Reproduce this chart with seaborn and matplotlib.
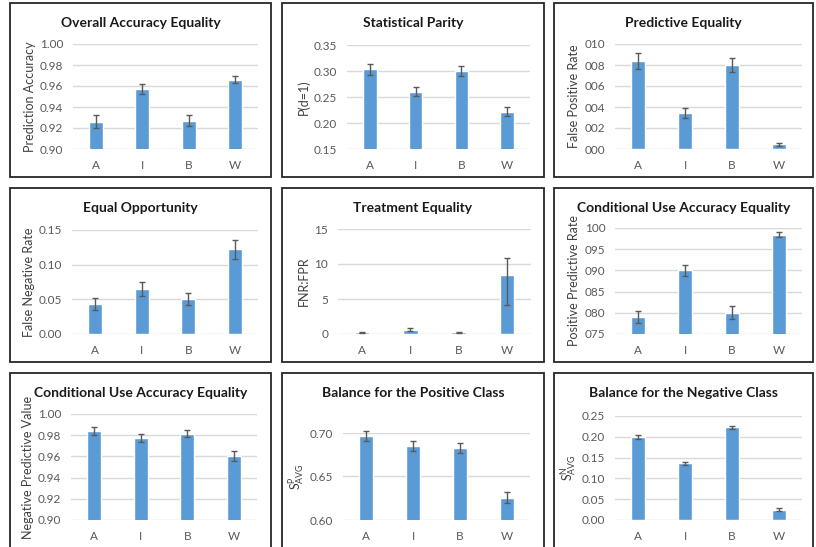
import numpy as np
import pandas as pd
import matplotlib
matplotlib.use("Agg")
import matplotlib.pyplot as plt
from matplotlib.patches import Rectangle
import seaborn as sns

sns.set_theme(style="white")
plt.rcParams["font.family"] = ["Lato", "DejaVu Sans"]

groups = ["A", "I", "B", "W"]

# Overall accuracy equality
acc_vals = [0.926, 0.957, 0.927, 0.966]
acc_err = [0.006, 0.0045, 0.0055, 0.0035]
acc_ticks = [0.90, 0.92, 0.94, 0.96, 0.98, 1.00]
acc_labels = ["0.90", "0.92", "0.94", "0.96", "0.98", "1.00"]

# Statistical parity
sp_vals = [0.303, 0.260, 0.300, 0.222]
sp_err = [0.010, 0.009, 0.009, 0.009]
sp_ticks = [0.15, 0.20, 0.25, 0.30, 0.35]
sp_labels = ["0.15", "0.20", "0.25", "0.30", "0.35"]

# Predictive equality (false positive rate)
fpr_vals = [0.084, 0.034, 0.080, 0.0045]
fpr_err = [0.0075, 0.0048, 0.007, 0.0016]
fpr_ticks = [0.00, 0.02, 0.04, 0.06, 0.08, 0.10]
fpr_labels = ["000", "002", "004", "006", "008", "010"]

# Equal opportunity (false negative rate)
fnr_vals = [0.0435, 0.0645, 0.050, 0.122]
fnr_err = [0.009, 0.010, 0.0087, 0.0133]
fnr_ticks = [0.00, 0.05, 0.10, 0.15]
fnr_labels = ["0.00", "0.05", "0.10", "0.15"]

# Treatment equality (FNR:FPR)
te_vals = [0.22, 0.62, 0.22, 8.5]
te_err_low = [0.06, 0.25, 0.08, 4.4]
te_err_high = [0.06, 0.25, 0.08, 2.4]
te_ticks = [0, 5, 10, 15]
te_labels = ["0", "5", "10", "15"]

# Conditional use accuracy equality (positive predictive value)
ppv_vals = [0.790, 0.900, 0.800, 0.984]
ppv_err = [0.0150, 0.0125, 0.0155, 0.0055]
ppv_ticks = [0.75, 0.80, 0.85, 0.90, 0.95, 1.00]
ppv_labels = ["075", "080", "085", "090", "095", "100"]

# Conditional use accuracy equality (negative predictive value)
npv_vals = [0.9838, 0.9775, 0.9815, 0.9605]
npv_err = [0.0036, 0.0040, 0.0035, 0.0044]
npv_ticks = [0.90, 0.92, 0.94, 0.96, 0.98, 1.00]
npv_labels = ["0.90", "0.92", "0.94", "0.96", "0.98", "1.00"]

# Balance for the positive class
bpos_vals = [0.6966, 0.6847, 0.6832, 0.6256]
bpos_err = [0.0059, 0.0057, 0.0057, 0.0061]
bpos_ticks = [0.60, 0.65, 0.70]
bpos_labels = ["0.60", "0.65", "0.70"]

# Balance for the negative class
bneg_vals = [0.1989, 0.1366, 0.2228, 0.0250]
bneg_err = [0.0045, 0.0040, 0.0032, 0.0035]
bneg_ticks = [0.00, 0.05, 0.10, 0.15, 0.20, 0.25]
bneg_labels = ["0.00", "0.05", "0.10", "0.15", "0.20", "0.25"]

W, H = 816, 547
BAR = "#5b9bd5"
ERR = "#595959"
TXT = "#595959"
GRID = "#d9d9d9"

# panel frame (x0, y0, x1, y1) and plot area (x0, y0, x1, y1) in pixels from top-left
panels = [
    ("Overall Accuracy Equality", "Prediction Accuracy", acc_vals, acc_err, acc_err,
     acc_ticks, acc_labels, (10, 3, 271, 177), (73, 44, 258, 149)),
    ("Statistical Parity", "P(d=1)", sp_vals, sp_err, sp_err,
     sp_ticks, sp_labels, (282, 3, 544, 177), (347, 45, 530, 149)),
    ("Predictive Equality", "False Positive Rate", fpr_vals, fpr_err, fpr_err,
     fpr_ticks, fpr_labels, (554, 3, 813, 177), (615, 44, 802, 149)),
    ("Equal Opportunity", "False Negative Rate", fnr_vals, fnr_err, fnr_err,
     fnr_ticks, fnr_labels, (10, 188, 271, 362), (72, 230, 258, 334)),
    ("Treatment Equality", "FNR:FPR", te_vals, te_err_low, te_err_high,
     te_ticks, te_labels, (282, 188, 544, 362), (338, 229, 531, 334)),
    ("Conditional Use Accuracy Equality", "Positive Predictive Rate", ppv_vals, ppv_err, ppv_err,
     ppv_ticks, ppv_labels, (554, 188, 813, 362), (615, 228, 802, 334)),
    ("Conditional Use Accuracy Equality", "Negative Predictive Value", npv_vals, npv_err, npv_err,
     npv_ticks, npv_labels, (10, 373, 271, 560), (71, 414, 257, 520)),
    ("Balance for the Positive Class", r"$\mathregular{S^{P}_{AVG}}$", bpos_vals, bpos_err, bpos_err,
     bpos_ticks, bpos_labels, (282, 373, 544, 560), (343, 433, 530, 520)),
    ("Balance for the Negative Class", r"$\mathregular{S^{N}_{AVG}}$", bneg_vals, bneg_err, bneg_err,
     bneg_ticks, bneg_labels, (554, 373, 813, 560), (615, 416, 802, 520)),
]

fig = plt.figure(figsize=(W / 100, H / 100), dpi=100)
fig.patch.set_facecolor("white")


def frac(box):
    x0, y0, x1, y1 = box
    return [x0 / W, 1 - y1 / H, (x1 - x0) / W, (y1 - y0) / H]


for title, ylabel, vals, elow, ehigh, ticks, tlabels, frame, area in panels:
    # chart frame
    fx0, fy0, fx1, fy1 = frame
    fig.add_artist(Rectangle((fx0 / W, 1 - fy1 / H), (fx1 - fx0) / W, (fy1 - fy0) / H,
                             transform=fig.transFigure, fill=False,
                             edgecolor="#262626", linewidth=1.3, zorder=0))
    fig.text((fx0 + fx1) / 2 / W, 1 - (fy0 + 20) / H, title, ha="center", va="center",
             fontsize=10, fontweight="bold", color="#1a1a1a")

    ax = fig.add_axes(frac(area))
    df = pd.DataFrame({"group": groups, "value": vals})
    sns.barplot(data=df, x="group", y="value", color=BAR, width=0.3,
                errorbar=None, ax=ax, zorder=3, saturation=1)
    centers = [p.get_x() + p.get_width() / 2 for p in ax.patches]
    ax.errorbar(centers, vals, yerr=[elow, ehigh], fmt="none", ecolor=ERR,
                elinewidth=1.0, capsize=2.5, capthick=1.0, zorder=4, clip_on=False)

    ax.set_xlim(-0.5, len(groups) - 0.5)
    ax.set_ylim(ticks[0], ticks[-1])
    ax.set_yticks(ticks)
    ax.set_yticklabels(tlabels)
    ax.set_xlabel("")
    ax.set_ylabel(ylabel, fontsize=9, color="#404040", labelpad=3)
    ax.yaxis.grid(True, color=GRID, linewidth=1.0, zorder=0)
    ax.set_axisbelow(True)
    for s in ax.spines.values():
        s.set_visible(False)
    ax.tick_params(axis="both", length=0, labelsize=8.5, labelcolor=TXT)
    ax.tick_params(axis="x", pad=8)
    ax.tick_params(axis="y", pad=7)
    ax.set_facecolor("none")

fig.savefig("out.png", dpi=100, facecolor="white")
